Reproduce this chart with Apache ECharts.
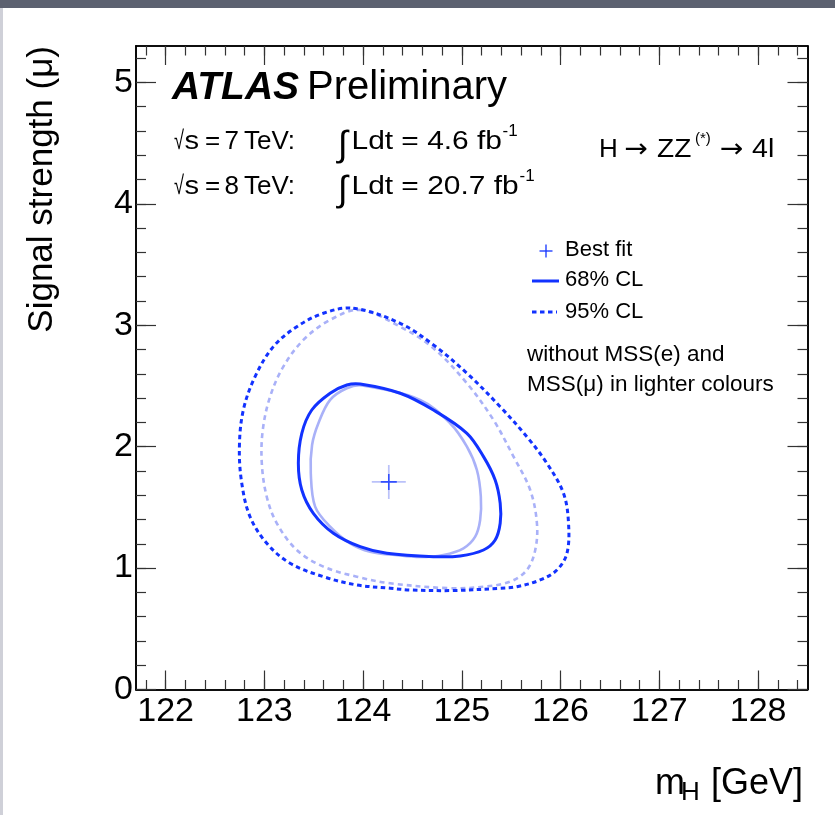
<!DOCTYPE html>
<html>
<head>
<meta charset="utf-8">
<title>H to ZZ* to 4l: signal strength vs mass</title>
<script src="https://cdn.jsdelivr.net/npm/echarts@6/dist/echarts.min.js"></script>
<style>
  html, body { margin: 0; padding: 0; background: #fff; }
  #chart { width: 835px; height: 815px; }
</style>
</head>
<body>
<div id="chart"></div>
<script>
// Axis ranges and tick labels
const xRange = [121.7, 128.5];
const yRange = [0, 5.3];
const xMajor = [122, 123, 124, 125, 126, 127, 128];
const yMajor = [0, 1, 2, 3, 4, 5];

// Best-fit point (m_H [GeV], mu)
const bestFit = [124.26, 1.71];

// 68% CL contour, full selection
const cl68 = [
  [123.970, 2.516], [124.375, 2.440], [124.712, 2.302], [125.051, 2.110],
  [125.219, 1.918], [125.337, 1.726], [125.388, 1.534], [125.388, 1.369],
  [125.337, 1.231], [125.219, 1.149], [124.983, 1.100], [124.712, 1.094],
  [124.240, 1.122], [123.970, 1.176], [123.699, 1.287], [123.496, 1.451],
  [123.379, 1.643], [123.344, 1.863], [123.379, 2.110], [123.480, 2.302],
  [123.666, 2.440], [123.835, 2.508]
];

// 68% CL contour, without MSS(e) and MSS(mu)
const cl68NoMss = [
  [123.990, 2.504], [124.577, 2.385], [124.881, 2.193], [125.051, 2.000],
  [125.152, 1.808], [125.192, 1.588], [125.185, 1.396], [125.135, 1.259],
  [125.016, 1.163], [124.813, 1.108], [124.577, 1.091], [124.324, 1.108],
  [124.071, 1.135], [123.868, 1.204], [123.666, 1.341], [123.514, 1.506],
  [123.470, 1.781], [123.483, 2.014], [123.547, 2.193], [123.666, 2.385],
  [123.835, 2.481]
];

// 95% CL contour, full selection
const cl95 = [
  [123.900, 3.140], [124.375, 3.016], [124.712, 2.838], [125.051, 2.605],
  [125.388, 2.329], [125.658, 2.082], [125.861, 1.863], [126.029, 1.616],
  [126.080, 1.369], [126.064, 1.122], [125.962, 0.984], [125.793, 0.902],
  [125.557, 0.847], [125.388, 0.834], [124.900, 0.815], [124.476, 0.820],
  [124.274, 0.834], [123.936, 0.861], [123.598, 0.929], [123.260, 1.040],
  [123.024, 1.204], [122.855, 1.423], [122.771, 1.699], [122.747, 2.000],
  [122.787, 2.302], [122.906, 2.577], [123.091, 2.824], [123.328, 2.988],
  [123.598, 3.099]
];

// 95% CL contour, without MSS(e) and MSS(mu)
const cl95NoMss = [
  [123.970, 3.126], [124.375, 2.988], [124.712, 2.811], [125.051, 2.522],
  [125.320, 2.220], [125.523, 1.918], [125.692, 1.643], [125.760, 1.369],
  [125.743, 1.149], [125.658, 0.984], [125.489, 0.888], [125.219, 0.847],
  [124.881, 0.834], [124.274, 0.875], [123.936, 0.929], [123.598, 1.012],
  [123.328, 1.149], [123.126, 1.369], [123.024, 1.588], [122.974, 1.863],
  [122.984, 2.138], [123.058, 2.412], [123.192, 2.659], [123.395, 2.879],
  [123.666, 3.044]
];

const FONT = '"Liberation Sans", Arial, Helvetica, sans-serif';
const SYMFONT = '"DejaVu Sans", sans-serif';
const BLUE = '#1232ff';
const LIGHT = '#a9b1f8';

// Minor tick positions every 0.2
const xMinor = [];
for (let k = Math.ceil(xRange[0] * 5); k <= Math.floor(xRange[1] * 5); k++) xMinor.push(+(k / 5).toFixed(1));
const yMinor = [];
for (let k = Math.ceil(yRange[0] * 5); k <= Math.floor(yRange[1] * 5); k++) yMinor.push(+(k / 5).toFixed(1));

const frameLine = { show: true, onZero: false, lineStyle: { color: '#000', width: 1.6 } };
const tickLine = { color: '#333', width: 1.2 };

function xAx(position, ticks, len, labels) {
  return {
    type: 'value', min: xRange[0], max: xRange[1], position: position,
    axisLine: frameLine,
    axisTick: { show: true, inside: true, length: len, customValues: ticks, lineStyle: tickLine },
    axisLabel: labels ? {
      show: true, customValues: ticks, fontSize: 34, fontFamily: FONT, color: '#000', margin: 5
    } : { show: false },
    splitLine: { show: false }
  };
}
function yAx(position, ticks, len, labels) {
  return {
    type: 'value', min: yRange[0], max: yRange[1], position: position,
    axisLine: frameLine,
    axisTick: { show: true, inside: true, length: len, customValues: ticks, lineStyle: tickLine },
    axisLabel: labels ? {
      show: true, customValues: ticks, fontSize: 34, fontFamily: FONT, color: '#000', margin: 3
    } : { show: false },
    splitLine: { show: false }
  };
}

// Closed smooth contour drawn through the axis scales
function contour(name, points, color, width, dash) {
  return {
    type: 'custom', name: name, xAxisIndex: 0, yAxisIndex: 0,
    data: points, silent: true, z: 5,
    renderItem: function (params, api) {
      if (params.dataIndex !== 0) return null;
      const pts = points.map(function (p) { return api.coord(p); });
      return {
        type: 'polygon',
        shape: { points: pts, smooth: 0.35 },
        style: { fill: 'none', stroke: color, lineWidth: width, lineDash: dash || null }
      };
    }
  };
}

function txt(x, y, s, size, extra, scaleX) {
  const el = {
    type: 'text', x: x, y: y, z: 20,
    style: Object.assign({
      text: s, fontSize: size, fontFamily: FONT, fill: '#000',
      align: 'left', verticalAlign: 'middle'
    }, extra || {})
  };
  if (scaleX) el.scaleX = scaleX;
  return el;
}

// One luminosity line: sqrt(s) = E TeV:  int L dt = value fb^-1
function lumiLine(y, energy, lumi, supX) {
  return [
    txt(174, y, '\u221A', 26, null, 0.7),
    txt(184.5, y, 's', 26, null, 1.12),
    txt(205, y, '=', 26),
    txt(224.5, y, energy, 26),
    txt(244, y, 'TeV:', 26),
    txt(338, y + 4, '\u222B', 36),
    txt(351.5, y, 'Ldt = ' + lumi + ' fb', 26, null, 1.15),
    txt(supX, y - 11, '-1', 17)
  ];
}

const chart = echarts.init(document.getElementById('chart'), null, { renderer: 'canvas' });

chart.setOption({
  animation: false,
  backgroundColor: '#fff',
  grid: { left: 136, right: 27.5, top: 46, bottom: 125.5, containLabel: false },
  xAxis: [
    xAx('bottom', xMajor, 19, true),
    xAx('bottom', xMinor, 9.5, false),
    xAx('top', xMajor, 19, false),
    xAx('top', xMinor, 9.5, false)
  ],
  yAxis: [
    yAx('left', yMajor, 20, true),
    yAx('left', yMinor, 10, false),
    yAx('right', yMajor, 20, false),
    yAx('right', yMinor, 10, false)
  ],
  series: [
    contour('95% CL (without MSS)', cl95NoMss, LIGHT, 2.6, [5, 4]),
    contour('68% CL (without MSS)', cl68NoMss, LIGHT, 2.6, null),
    contour('95% CL', cl95, BLUE, 3, [4.5, 3.5]),
    contour('68% CL', cl68, BLUE, 3, null),
    {
      type: 'scatter', name: 'Best fit (without MSS)', xAxisIndex: 0, yAxisIndex: 0,
      data: [bestFit], symbol: 'path://M-0.85,-17 h1.7 v34 h-1.7 z M-17,-0.85 h34 v1.7 h-34 z',
      symbolSize: 34, itemStyle: { color: LIGHT }, z: 6, silent: true
    },
    {
      type: 'scatter', name: 'Best fit', xAxisIndex: 0, yAxisIndex: 0,
      data: [bestFit], symbol: 'path://M-0.8,-8 h1.6 v16 h-1.6 z M-8,-0.8 h16 v1.6 h-16 z',
      symbolSize: 16, itemStyle: { color: BLUE, opacity: 0.8 }, z: 7, silent: true
    }
  ],
  graphic: [
    // page edges
    { type: 'rect', shape: { x: 0, y: 0, width: 835, height: 8 }, style: { fill: '#5c6170' }, z: 30 },
    { type: 'rect', shape: { x: 0, y: 8, width: 3, height: 807 }, style: { fill: '#cfd0d8' }, z: 30 },

    // experiment label
    txt(172, 88, 'ATLAS', 39, { fontWeight: 'bold', fontStyle: 'italic' }),
    txt(307, 88, 'Preliminary', 40),

    // luminosity
    ...lumiLine(142, '7', '4.6', 502.5),
    ...lumiLine(187, '8', '20.7', 519.5),

    // channel
    txt(599, 150.3, 'H', 26),
    txt(624.5, 150.3, '\u2192', 26, { fontFamily: SYMFONT }, 1.08),
    txt(657, 150.3, 'ZZ', 26, null, 1.08),
    txt(695, 139, '(*)', 15),
    txt(720, 150.3, '\u2192', 26, { fontFamily: SYMFONT }, 1.08),
    txt(752, 150.3, '4l', 26, null, 1.1),

    // legend
    { type: 'polyline', shape: { points: [[546, 244.5], [546, 257.5]] }, style: { stroke: BLUE, lineWidth: 1.3 }, z: 20 },
    { type: 'polyline', shape: { points: [[539.5, 251], [552.5, 251]] }, style: { stroke: BLUE, lineWidth: 1.3 }, z: 20 },
    txt(565, 250.4, 'Best fit', 22),
    { type: 'polyline', shape: { points: [[532, 281], [559, 281]] }, style: { stroke: BLUE, lineWidth: 3 }, z: 20 },
    txt(565, 280.4, '68% CL', 22),
    { type: 'polyline', shape: { points: [[532, 312], [557, 312]] }, style: { stroke: BLUE, lineWidth: 3, lineDash: [4.5, 3.5] }, z: 20 },
    txt(565, 312.4, '95% CL', 22),
    txt(527, 354.5, 'without MSS(e) and', 22.5),
    txt(527, 384.5, 'MSS(\u03BC) in lighter colours', 22.5),

    // axis titles
    txt(655, 784.5, 'm', 36),
    txt(681, 793, 'H', 26),
    txt(711, 784.5, '[GeV]', 36),
    {
      type: 'text', x: 42, y: 46, rotation: Math.PI / 2, z: 20,
      style: { text: 'Signal strength (\u03BC)', fontSize: 35, fontFamily: FONT, fill: '#000', align: 'right', verticalAlign: 'middle' }
    }
  ]
});
</script>
</body>
</html>
